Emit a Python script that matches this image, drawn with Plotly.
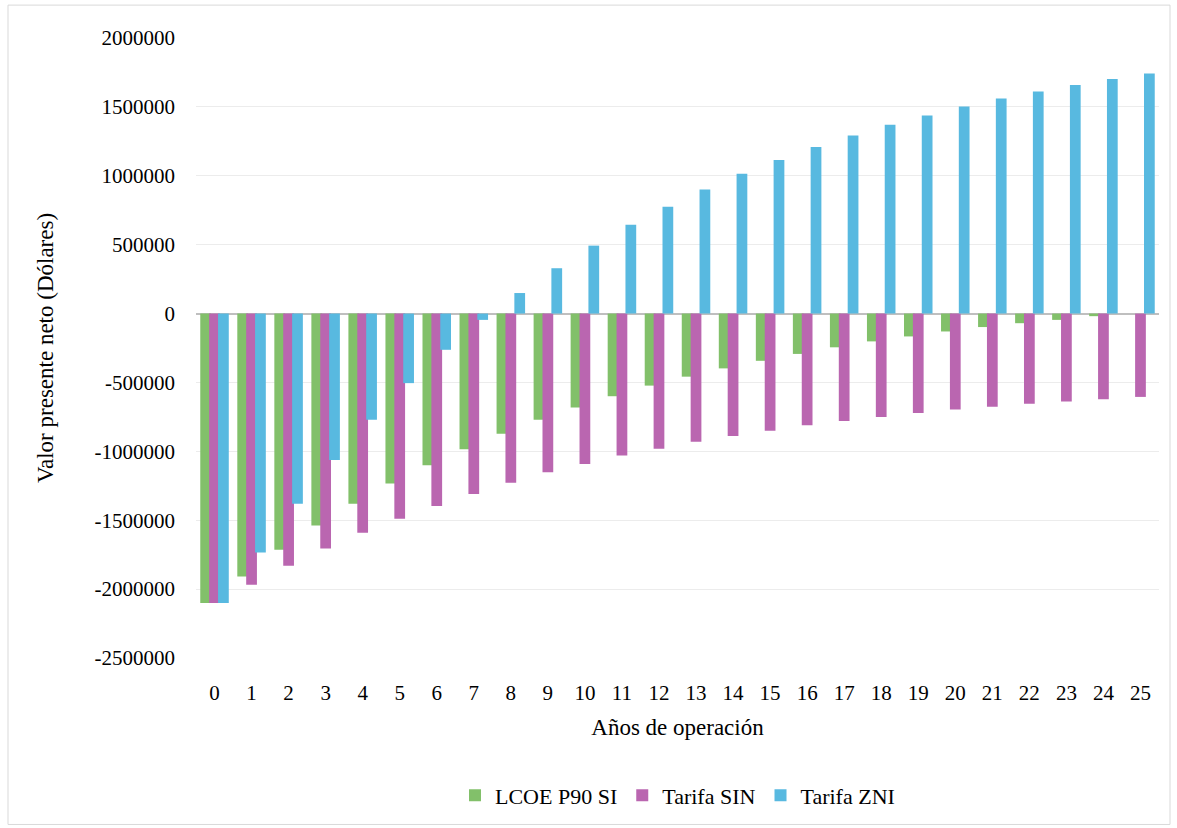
import plotly.graph_objects as go

years = list(range(26))
year_labels = [str(y) for y in years]

lcoe_p90_si = [-2100000, -1908000, -1715000, -1538000, -1381000, -1234000, -1101000, -985000,
               -872000, -770000, -682000, -600000, -523000, -458000, -398000, -343000,
               -293000, -245000, -202000, -166000, -130000, -98000, -70000, -46000, -19000, 0]
tarifa_sin = [-2100000, -1968000, -1831000, -1705000, -1591000, -1490000, -1396000, -1309000,
              -1228000, -1152000, -1092000, -1030000, -982000, -931000, -888000, -850000,
              -811000, -780000, -751000, -722000, -696000, -677000, -655000, -638000, -622000, -605000]
tarifa_zni = [-2100000, -1734000, -1381000, -1063000, -770000, -505000, -263000, -46000,
              149000, 329000, 493000, 644000, 776000, 901000, 1014000, 1115000,
              1209000, 1293000, 1370000, 1438000, 1503000, 1560000, 1611000, 1659000, 1702000, 1743000]

W, H = 1177, 828
L, R, T, B = 196, 18, 38, 168
FONT = "'Liberation Serif', 'Times New Roman', 'DejaVu Serif', serif"

fig = go.Figure()
series = [
    ("LCOE P90 SI", lcoe_p90_si, "#82C06A", -0.385),
    ("Tarifa SIN", tarifa_sin, "#BA66B0", -0.145),
    ("Tarifa ZNI", tarifa_zni, "#58B9E0", 0.095),
]
for name, vals, col, off in series:
    fig.add_trace(go.Bar(
        x=years, y=vals, name=name, marker_color=col,
        width=0.29, offset=off,
        marker_line_width=0,
    ))

def px_x(p):
    return (p - L) / (W - L - R)

def px_y(p):
    return 1 - (p - T) / (H - T - B)

fig.add_shape(type="rect", xref="paper", yref="paper",
              x0=px_x(8), x1=px_x(1170), y0=px_y(5), y1=px_y(827),
              line=dict(color="#D9D9D9", width=1), fillcolor="rgba(0,0,0,0)", layer="below")

fig.update_layout(
    width=W, height=H,
    margin=dict(l=L, r=R, t=T, b=B),
    barmode="overlay",
    plot_bgcolor="white", paper_bgcolor="white",
    font=dict(family=FONT, size=21, color="black"),
    showlegend=True,
    legend=dict(orientation="h", x=0.5, xanchor="center", y=px_y(798), yanchor="middle",
                font=dict(family=FONT, size=22), itemwidth=30, traceorder="normal"),
    xaxis=dict(
        range=[-0.5, 25.5], tickmode="array", tickvals=years, ticktext=year_labels,
        showgrid=False, zeroline=False, showline=False, ticks="",
        tickfont=dict(family=FONT, size=21), ticklabelstandoff=20,
        title=dict(text="Años de operación", font=dict(family=FONT, size=23), standoff=14),
    ),
    yaxis=dict(
        range=[-2500000, 2000000], tickmode="array",
        tickvals=[-2500000, -2000000, -1500000, -1000000, -500000, 0, 500000, 1000000, 1500000, 2000000],
        ticktext=["-2500000", "-2000000", "-1500000", "-1000000", "-500000", "0",
                  "500000", "1000000", "1500000", "2000000"],
        showgrid=True, gridcolor="#ECECEC", gridwidth=1,
        zeroline=True, zerolinecolor="#BFBFBF", zerolinewidth=2,
        showline=False, ticks="",
        tickfont=dict(family=FONT, size=21), ticklabelstandoff=20,
        title=dict(text="Valor presente neto (Dólares)", font=dict(family=FONT, size=23), standoff=34),
    ),
)

fig.write_html("out.html")
